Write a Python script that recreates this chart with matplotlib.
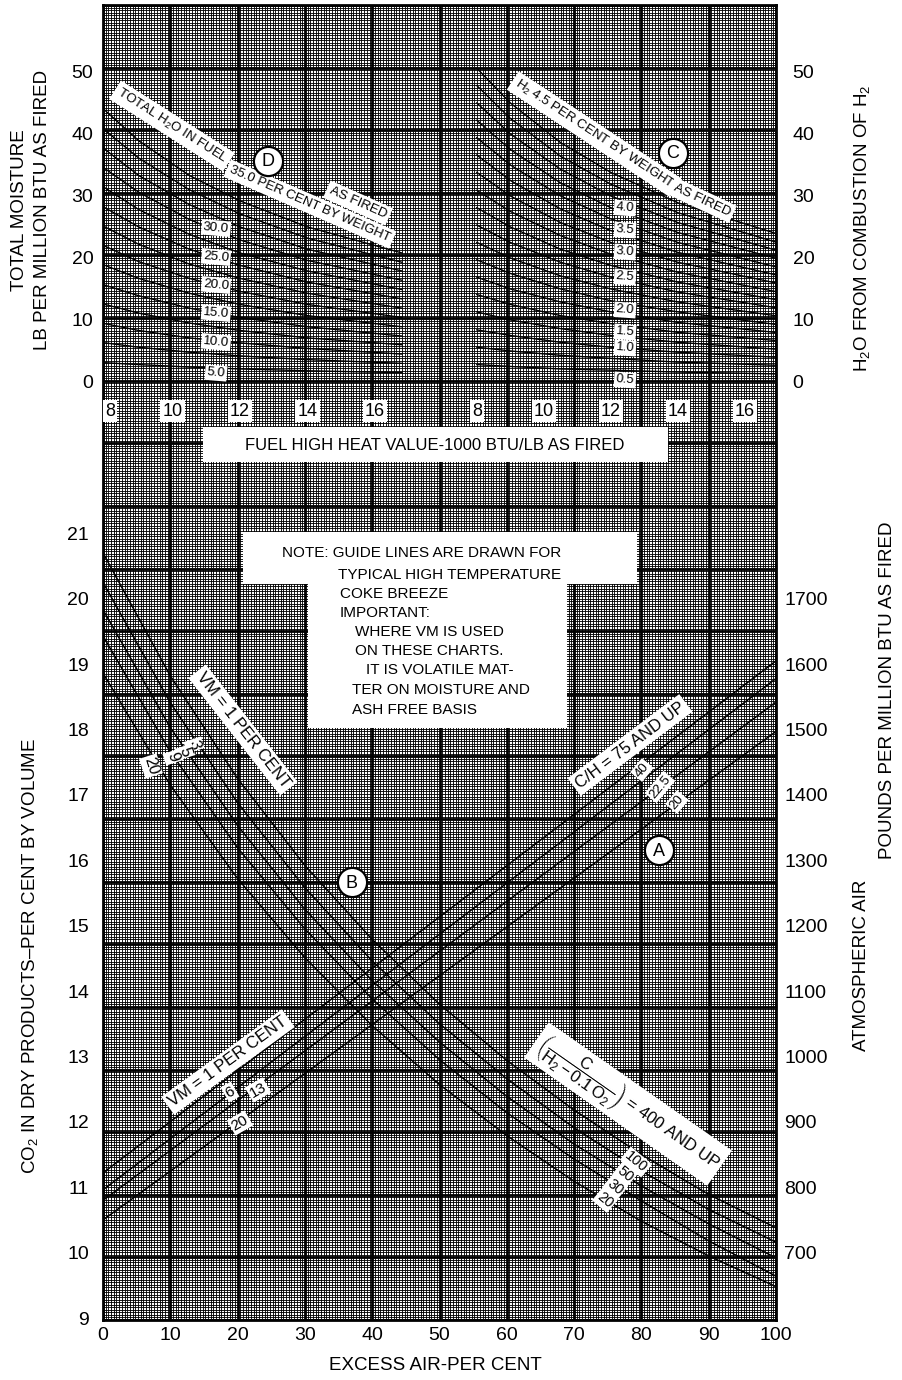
import numpy as np
import matplotlib
matplotlib.use("Agg")
import matplotlib.pyplot as plt
from matplotlib.collections import LineCollection
from matplotlib.patches import Rectangle

plt.rcParams['font.family'] = ['Liberation Sans', 'DejaVu Sans']
plt.rcParams['mathtext.fontset'] = 'custom'
plt.rcParams['mathtext.rm'] = 'Liberation Sans'
plt.rcParams['mathtext.it'] = 'Liberation Sans'
plt.rcParams['mathtext.sf'] = 'Liberation Sans'

W, H = 903, 1380

# ---- chart D : total moisture, lb per million Btu, vs fuel HHV (1000 Btu/lb)
hhv_d = [8, 9, 10.5, 12, 14, 16.8]
h2o_pct = [35, 32.5, 30, 27.5, 25, 22.5, 20, 17.5, 15, 12.5, 10, 7.5, 5, 2.5]
moist_d = [
    [43.8, 38.9, 33.3, 29.2, 25.0, 20.8],
    [40.6, 36.1, 31.0, 27.1, 23.2, 19.3],
    [37.5, 33.3, 28.6, 25.0, 21.4, 17.9],
    [34.4, 30.6, 26.2, 22.9, 19.6, 16.4],
    [31.3, 27.8, 23.8, 20.8, 17.9, 14.9],
    [28.1, 25.0, 21.4, 18.8, 16.1, 13.4],
    [25.0, 22.2, 19.0, 16.7, 14.3, 11.9],
    [21.9, 19.4, 16.7, 14.6, 12.5, 10.4],
    [18.8, 16.7, 14.3, 12.5, 10.7, 8.9],
    [15.6, 13.9, 11.9, 10.4, 8.9, 7.4],
    [12.5, 11.1, 9.5, 8.3, 7.1, 6.0],
    [9.4, 8.3, 7.1, 6.3, 5.4, 4.5],
    [6.3, 5.6, 4.8, 4.2, 3.6, 3.0],
    [3.1, 2.8, 2.4, 2.1, 1.8, 1.5],
]
d_labels = ['30.0', '25.0', '20.0', '15.0', '10.0', '5.0']

# ---- chart C : H2O from combustion of H2 vs fuel HHV
hhv_c = [8, 9, 10.5, 12, 14, 16.9]
h2_pct = [4.5, 4.25, 4.0, 3.75, 3.5, 3.25, 3.0, 2.75, 2.5,
          2.25, 2.0, 1.75, 1.5, 1.25, 1.0, 0.75, 0.5, 0.25]
moist_c = [
    [50.6, 45.0, 38.6, 33.8, 28.9, 24.0],
    [47.8, 42.5, 36.4, 31.9, 27.3, 22.6],
    [45.0, 40.0, 34.3, 30.0, 25.7, 21.3],
    [42.2, 37.5, 32.1, 28.1, 24.1, 20.0],
    [39.4, 35.0, 30.0, 26.3, 22.5, 18.6],
    [36.6, 32.5, 27.9, 24.4, 20.9, 17.3],
    [33.8, 30.0, 25.7, 22.5, 19.3, 16.0],
    [30.9, 27.5, 23.6, 20.6, 17.7, 14.6],
    [28.1, 25.0, 21.4, 18.8, 16.1, 13.3],
    [25.3, 22.5, 19.3, 16.9, 14.5, 12.0],
    [22.5, 20.0, 17.1, 15.0, 12.9, 10.7],
    [19.7, 17.5, 15.0, 13.1, 11.3, 9.3],
    [16.9, 15.0, 12.9, 11.3, 9.6, 8.0],
    [14.1, 12.5, 10.7, 9.4, 8.0, 6.7],
    [11.3, 10.0, 8.6, 7.5, 6.4, 5.3],
    [8.4, 7.5, 6.4, 5.6, 4.8, 4.0],
    [5.6, 5.0, 4.3, 3.8, 3.2, 2.7],
    [2.8, 2.5, 2.1, 1.9, 1.6, 1.3],
]
c_labels = ['4.0', '3.5', '3.0', '2.5', '2.0', '1.5', '1.0', '0.5']

# ---- chart B : CO2 in dry products vs excess air
excess_air = [0, 10, 20, 30, 40, 50, 60, 70, 80, 90, 100]
vm_b = ['1', '3', '5', '9', '20']
ratio_b = ['400 AND UP', '100', '50', '30', '20']
co2_b = [
    [20.70, 18.82, 17.25, 15.92, 14.79, 13.80, 12.94, 12.18, 11.50, 10.89, 10.38],
    [20.25, 18.41, 16.88, 15.58, 14.46, 13.50, 12.66, 11.91, 11.25, 10.66, 10.16],
    [19.83, 18.03, 16.53, 15.25, 14.16, 13.22, 12.39, 11.66, 11.02, 10.44, 9.92],
    [19.43, 17.66, 16.19, 14.95, 13.88, 12.95, 12.14, 11.43, 10.79, 10.18, 9.64],
    [18.86, 17.15, 15.72, 14.51, 13.47, 12.57, 11.79, 11.09, 10.48, 9.95, 9.48],
]

# ---- chart A : atmospheric air, lb per million Btu, vs excess air
excess_air_a = [0, 100]
ch_ratio = ['75 AND UP', '40', '22.5', '20']
vm_a = ['1', '6', '13', '20']
air_a = [
    [822, 1605],
    [796, 1578],
    [780, 1542],
    [750, 1497],
]

ea_ticks = list(range(0, 101, 10))
co2_ticks = list(range(9, 22))
air_ticks = list(range(700, 1701, 100))
moist_ticks = [0, 10, 20, 30, 40, 50]
hhv_ticks = [8, 10, 12, 14, 16]

note_lines = [
    "NOTE: GUIDE LINES ARE DRAWN FOR",
    "TYPICAL HIGH TEMPERATURE",
    "COKE BREEZE",
    "IMPORTANT:",
    "WHERE VM IS USED",
    "ON THESE CHARTS.",
    "IT IS VOLATILE MAT-",
    "TER ON MOISTURE AND",
    "ASH FREE BASIS",
]

# frame of the graph paper in pixels
L, R, T, B = 103, 776, 5, 1320
rect = [L / W, 1 - B / H, (R - L) / W, (B - T) / H]

fig = plt.figure(figsize=(W / 100, H / 100), dpi=100)


def bare(ax):
    ax.patch.set_visible(False)
    for s in ax.spines.values():
        s.set_visible(False)
    ax.tick_params(length=0)


# graph paper background
bg = fig.add_axes(rect, label='paper')
nx, ny, sub = 10, 21, 25
fx = np.linspace(0, nx, nx * sub + 1)
fy = np.linspace(0, ny, ny * sub + 1)
fine = [[(x, 0), (x, ny)] for x in fx] + [[(0, y), (nx, y)] for y in fy]
bg.add_collection(LineCollection(fine, colors='black', linewidths=0.62))
major = [[(x, 0), (x, ny)] for x in range(nx + 1)] + [[(0, y), (nx, y)] for y in range(ny + 1)]
bg.add_collection(LineCollection(major, colors='black', linewidths=2.0))
bg.set_xlim(0, nx)
bg.set_ylim(0, ny)
bg.set_xticks([])
bg.set_yticks([])
for s in bg.spines.values():
    s.set_linewidth(2)

# lower chart: CO2 (left) / atmospheric air (right) vs excess air
ax = fig.add_axes(rect, label='co2')
bare(ax)
ax.set_xlim(0, 100)
ax.set_ylim(8.97, 29.08)
for vals in co2_b:
    ax.plot(excess_air, vals, color='black', lw=1.1)
ax.set_xticks(ea_ticks)
ax.set_yticks(co2_ticks)
ax.tick_params(axis='x', labelsize=14, pad=5)
ax.tick_params(axis='y', labelsize=14, pad=10)

axr = ax.twinx()
bare(axr)
axr.set_ylim(597, 2608)
for vals in air_a:
    axr.plot(excess_air_a, vals, color='black', lw=1.1)
axr.set_yticks(air_ticks)
axr.tick_params(axis='y', labelsize=14, pad=6)

# upper charts: moisture vs fuel heat value
m_lim = (-151.3, 60.8)
axd = fig.add_axes(rect, label='d')
bare(axd)
axd.set_xlim(7.94, 27.88)
axd.set_ylim(*m_lim)
for vals in moist_d:
    axd.plot(hhv_d, vals, color='black', lw=1.0)
axd.set_xticks([])
axd.set_yticks(moist_ticks)
axd.tick_params(axis='y', labelsize=14, pad=7)

axc = fig.add_axes(rect, label='c')
bare(axc)
axc.set_xlim(-3.16, 16.93)
axc.set_ylim(*m_lim)
for vals in moist_c:
    axc.plot(hhv_c, vals, color='black', lw=1.0)
axc.set_xticks([])
axc.set_yticks(moist_ticks)
axc.yaxis.tick_right()
axc.tick_params(axis='y', labelsize=14, pad=12)

# heat value scale labels inside the paper
wbox = dict(facecolor='white', edgecolor='none', pad=1.5)
for v in hhv_ticks:
    axd.text(v, -4.7, str(v), ha='left' if v == 8 else 'center', va='center',
             fontsize=13, bbox=wbox, zorder=6)
    axc.text(v, -4.7, str(v), ha='center', va='center', fontsize=13, bbox=wbox, zorder=6)

# annotation layer in pixel coordinates
an = fig.add_axes([0, 0, 1, 1], label='ann')
an.set_xlim(0, W)
an.set_ylim(H, 0)
an.axis('off')

an.add_patch(Rectangle((203, 427), 465, 35, facecolor='white', edgecolor='none'))
an.text(435, 445, "FUEL HIGH HEAT VALUE-1000 BTU/LB AS FIRED", ha='center', va='center', fontsize=12)

# note box
an.add_patch(Rectangle((243, 532), 394, 52, facecolor='white', edgecolor='none'))
an.add_patch(Rectangle((308, 583), 259, 145, facecolor='white', edgecolor='none'))
note_x = [282, 338, 340, 340, 355, 355, 366, 352, 352]
note_y = [553, 575, 594, 613, 632, 651, 670, 690, 710]
for s, x, y in zip(note_lines, note_x, note_y):
    an.text(x, y, s, ha='left', va='center', fontsize=11)

band = dict(facecolor='white', edgecolor='none', pad=2.5)
small = dict(facecolor='white', edgecolor='none', pad=1.2)


def tag(x, y, s, rot=0, fs=10, box=band):
    an.text(x, y, s, rotation=rot, rotation_mode='anchor', ha='center', va='center',
            fontsize=fs, bbox=box, zorder=8)


# chart D labels
tag(172, 126, r"TOTAL H$_2$O IN FUEL", -32.5, 9.5)
tag(310, 204, "%.1f PER CENT BY WEIGHT" % h2o_pct[0], -23.5, 9.5)
tag(358, 203, "AS FIRED", -24, 9.5)
for s, y in zip(d_labels, [228, 257, 285, 313, 342, 373]):
    tag(216, y, s, -5, 9.5, small)

# chart C labels
tag(594, 134, r"H$_2$ %.1f PER CENT BY WEIGHT" % h2_pct[0], -33.4, 9.5)
tag(702, 200, "AS FIRED", -25, 9.5)
for s, y in zip(c_labels, [208, 230, 252, 277, 310, 332, 348, 380]):
    tag(625, y, s, -4, 9.5, small)

# chart B labels
tag(243, 730, "VM = %s PER CENT" % vm_b[0], -52, 12)
for s, x, y in zip(vm_b[1:], [194, 185, 173, 151], [745, 752, 757, 766]):
    tag(x, y, s, -72, 11.5, small)
tag(628, 1104, r"$\left(\dfrac{\mathrm{C}}{\mathrm{H_2 - 0.1\,O_2}}\right)$ = " + ratio_b[0], -35, 12)
for s, x, y in zip(ratio_b[1:], [636, 625, 615, 605], [1162, 1174, 1187, 1200]):
    tag(x, y, s, -40, 10.5, small)

# chart A labels
tag(630, 745, "C/H = " + ch_ratio[0], 37, 12)
for s, x, y in zip(ch_ratio[1:], [642, 660, 677], [770, 787, 802]):
    tag(x, y, s, 50, 9.5, small)
tag(228, 1062, "VM = %s PER CENT" % vm_a[0], 36, 12)
for s, x, y in zip(vm_a[1:], [230, 258, 240], [1092, 1090, 1123]):
    tag(x, y, s, 30, 11, small)

# circled chart letters
for s, x, y in [('D', 268, 161), ('C', 673, 153), ('B', 352, 882), ('A', 659, 850)]:
    an.plot(x, y, 'o', ms=21, mfc='white', mec='black', mew=1.6, zorder=9)
    an.text(x, y + 1, s, ha='center', va='center', fontsize=13, zorder=10)

# axis titles
an.text(20, 210, "TOTAL MOISTURE", rotation=90, ha='center', va='center', fontsize=13.5)
an.text(43, 210, "LB PER MILLION BTU AS FIRED", rotation=90, ha='center', va='center', fontsize=13.5)
an.text(30, 956, r"CO$_2$ IN DRY PRODUCTS–PER CENT BY VOLUME", rotation=90, ha='center',
        va='center', fontsize=13.5)
an.text(862, 228, r"H$_2$O FROM COMBUSTION OF H$_2$", rotation=90, ha='center', va='center',
        fontsize=13.5)
an.text(888, 690, "POUNDS PER MILLION BTU AS FIRED", rotation=90, ha='center', va='center',
        fontsize=13.5)
an.text(862, 965, "ATMOSPHERIC AIR", rotation=90, ha='center', va='center', fontsize=13.5)
an.text(435, 1365, "EXCESS AIR-PER CENT", ha='center', va='center', fontsize=13.5)

fig.savefig("out.png", dpi=100)
